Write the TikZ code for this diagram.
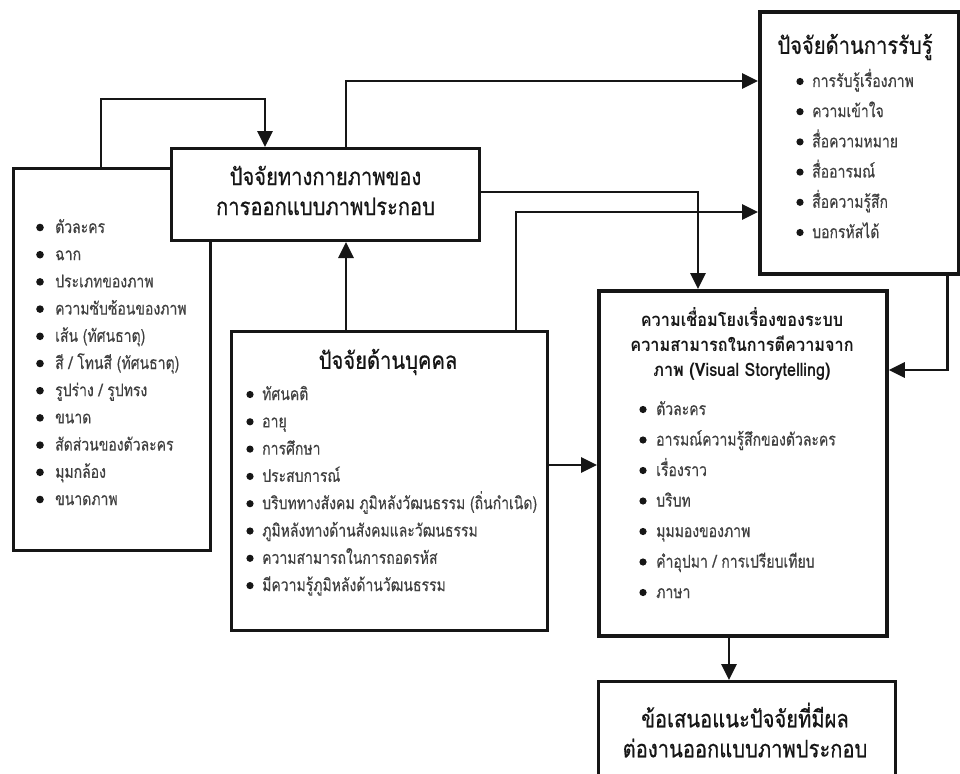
\documentclass[tikz,border=0pt]{standalone}
\usepackage{fontspec}
\setmainfont{Liberation Sans}
\newfontfamily\thaiitem[Script=Thai,FakeStretch=0.8,FakeBold=0.4]{Loma}
\newfontfamily\thaititle[Script=Thai,FakeStretch=0.84,FakeBold=0.6]{Loma}
\newfontfamily\thaiheavy[Script=Thai,FakeStretch=0.88]{Loma}
\usetikzlibrary{arrows.meta}
\definecolor{ink}{HTML}{161616}
\definecolor{itemgray}{HTML}{404040}
\tikzset{
  panel/.style={draw=ink, line width=3pt, fill=white, inner sep=0pt, anchor=north west},
  heavypanel/.style={panel, line width=3.8pt},
  conn/.style={draw=ink, line width=2.9pt, -{Triangle[length=16pt,width=15pt]}},
  itemtext/.style={font=\thaiitem\fontsize{17.5}{18}\selectfont, text=itemgray, inner sep=0pt, anchor=base west},
  titletext/.style={font=\thaititle\fontsize{24}{30}\selectfont, text=ink, align=center, inner sep=0pt},
  vtitle/.style={font=\thaiheavy\bfseries\fontsize{18.5}{25}\selectfont, text=ink, align=center, inner sep=0pt},
}
\begin{document}
\begin{tikzpicture}[x=1pt,y=-1pt]
\useasboundingbox[fill=white] (0,0) rectangle (960,773);

% left list of physical elements, partly behind the physical-factor box
\node[panel, minimum width=197pt, minimum height=382pt] (L) at (12,167) {};
\node[panel, minimum width=308pt, minimum height=92pt] (P) at (170,147) {};
\node[titletext] (Pt) at ([yshift=4pt]P.center) {ปัจจัยทางกายภาพของ\\การออกแบบภาพประกอบ};

\foreach \t [count=\i] in {ตัวละคร,ฉาก,ประเภทของภาพ,ความซับซ้อนของภาพ,เส้น (ทัศนธาตุ),สี / โทนสี (ทัศนธาตุ),รูปร่าง / รูปทรง,ขนาด,สัดส่วนของตัวละคร,มุมกล้อง,ขนาดภาพ}{
  \node[itemtext] (l\i) at (55,{233+27.2*(\i-1)}) {\t};
  \fill[ink] ([xshift=-15pt,yshift=5.5pt]l\i.base west) circle (3.8pt);
}

% perception factors
\node[heavypanel, minimum width=199pt, minimum height=262pt] (R) at (758,10) {};
\node[titletext] (Rt) at (855,47) {ปัจจัยด้านการรับรู้};
\foreach \t [count=\i] in {การรับรู้เรื่องภาพ,ความเข้าใจ,สื่อความหมาย,สื่ออารมณ์,สื่อความรู้สึก,บอกรหัสได้}{
  \node[itemtext] (r\i) at (812,{87+30.2*(\i-1)}) {\t};
  \fill[ink] ([xshift=-12pt,yshift=5.5pt]r\i.base west) circle (3.6pt);
}

% personal factors
\node[panel, minimum width=316pt, minimum height=299pt] (B) at (230,330) {};
\node[titletext] (Bt) at (388,362) {ปัจจัยด้านบุคคล};
\foreach \t [count=\i] in {ทัศนคติ,อายุ,การศึกษา,ประสบการณ์,บริบททางสังคม ภูมิหลังวัฒนธรรม (ถิ่นกำเนิด),ภูมิหลังทางด้านสังคมและวัฒนธรรม,ความสามารถในการถอดรหัส,มีความรู้ภูมิหลังด้านวัฒนธรรม}{
  \node[itemtext] (b\i) at (262,{400+27.3*(\i-1)}) {\t};
  \fill[ink] ([xshift=-12pt,yshift=5.5pt]b\i.base west) circle (3.6pt);
}

% visual storytelling
\node[heavypanel, minimum width=288pt, minimum height=345pt] (V) at (597,289) {};
\node[vtitle] (Vt) at (742,344) {ความเชื่อมโยงเรื่องของระบบ\\ความสามารถในการตีความจาก\\ภาพ (Visual Storytelling)};
\foreach \t [count=\i] in {ตัวละคร,อารมณ์ความรู้สึกของตัวละคร,เรื่องราว,บริบท,มุมมองของภาพ,คำอุปมา / การเปรียบเทียบ,ภาษา}{
  \node[itemtext] (v\i) at (656,{415+30.5*(\i-1)}) {\t};
  \fill[ink] ([xshift=-13pt,yshift=5.5pt]v\i.base west) circle (3.6pt);
}

% recommendation
\node[panel, minimum width=297pt, minimum height=110pt] (S) at (597,680) {};
\node[titletext] (St) at (745,730) {ข้อเสนอแนะปัจจัยที่มีผล\\ต่องานออกแบบภาพประกอบ};

% connectors
\draw[conn] ([xshift=89pt]L.north west) -- ++(0,-68) -| ([xshift=95pt]P.north west);
\draw[conn] ([xshift=176pt]P.north west) |- ([yshift=-71pt]R.north west);
\draw[conn] ([yshift=-45pt]P.north east) -| ([xshift=101pt]V.north west);
\draw[conn] ([xshift=286pt]B.north west) |- ([yshift=-202pt]R.north west);
\draw[conn] ([xshift=116pt]B.north west) -- ([xshift=176pt]P.south west);
\draw[conn] ([yshift=-135pt]B.north east) -- ([yshift=-135pt]B.north east -| V.west);
\draw[conn] ([xshift=-13pt]R.south east) |- ([yshift=-81pt]V.north east);
\draw[conn] ([xshift=132pt]V.south west) -- ([xshift=132pt]S.north west);
\end{tikzpicture}
\end{document}
